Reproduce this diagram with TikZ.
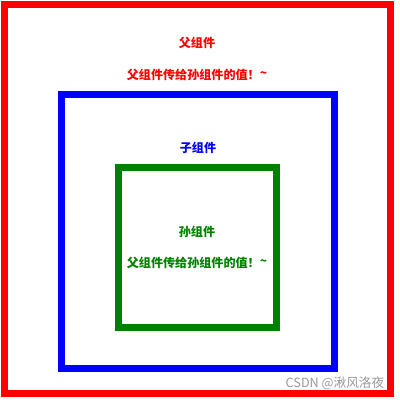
\documentclass[tikz,border=0pt]{standalone}
\usepackage{fontspec}
\newfontfamily\cjk{Noto Sans CJK SC}
\usetikzlibrary{positioning}
\definecolor{parentred}{RGB}{255,0,0}
\definecolor{childblue}{RGB}{0,0,255}
\definecolor{grandgreen}{RGB}{0,128,0}
\tikzset{
frame/.style = { draw = #1, line width = 1.75mm },
title/.style = { text = #1, font = \cjk\bfseries\fontsize{8.6}{10}\selectfont, inner sep = 0pt },
watermark/.style = { text = gray!80, font = \cjk\fontsize{9}{10}\selectfont, inner sep = 0pt }
}

\begin{document}
\begin{tikzpicture}[x = 0.25mm, y = -0.25mm]
	\useasboundingbox (0,0) rectangle (400,400);
	% the three components, one inside the other
	\draw [frame = parentred] (4.5,4.5) rectangle (390.5,393);
	\draw [frame = childblue] (61.5,94) rectangle (334,368);
	\draw [frame = grandgreen] (118,167) rectangle (276.5,327);
	% texts
	\node [title = parentred] (parent) at (197,43) {父组件};
	\node [title = parentred, below = 8mm of parent.center, anchor = center] (parentval) {父组件传给孙组件的值！\raisebox{.3ex}{\textasciitilde}};
	\node [title = childblue] (child) at (198,148) {子组件};
	\node [title = grandgreen] (grand) at (197,232) {孙组件};
	\node [title = grandgreen, below = 7.8mm of grand.center, anchor = center] (grandval) {父组件传给孙组件的值！\raisebox{.3ex}{\textasciitilde}};
	\node [watermark] (csdn) at (335,383) {CSDN @湫风洛夜};
\end{tikzpicture}
\end{document}
